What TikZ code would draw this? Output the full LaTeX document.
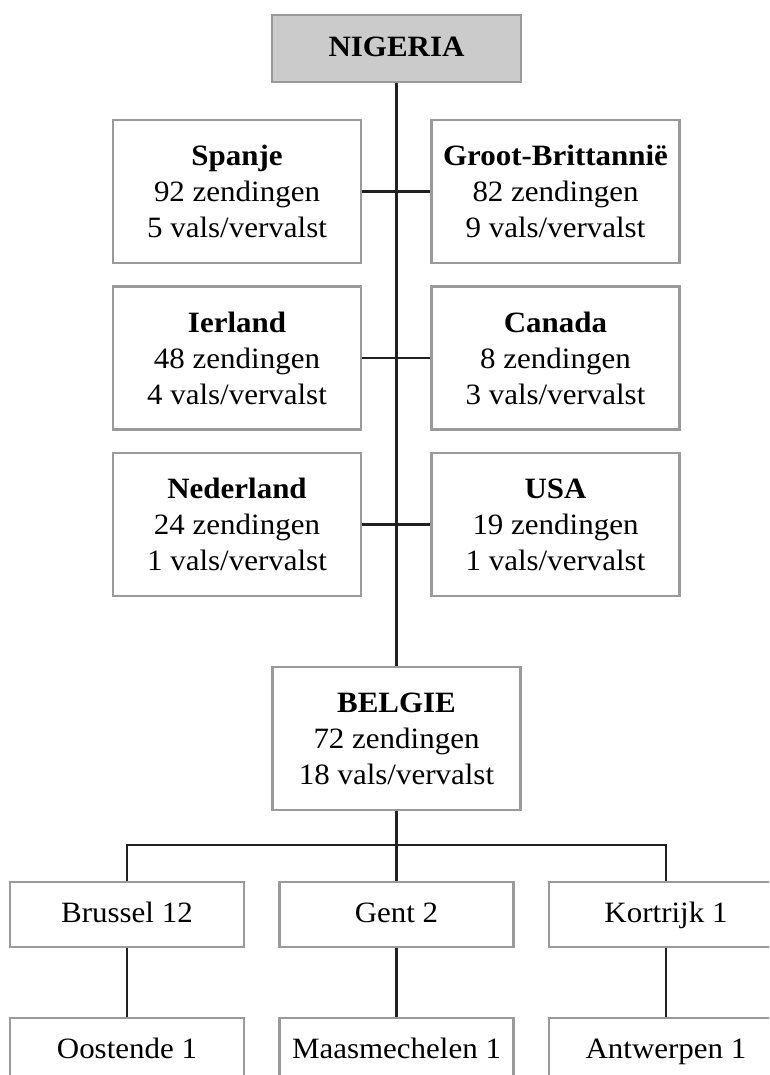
\documentclass[tikz,border=0pt]{standalone}
\usepackage{fontspec}
\setmainfont[FakeStretch=1.05]{Liberation Serif}
\usepackage{xcolor}
\definecolor{boxgray}{HTML}{9A9A9A}
\definecolor{headfill}{HTML}{CBCBCB}
\definecolor{linek}{HTML}{231F20}

\tikzset{
  cbox/.style={draw=boxgray,line width=2.2pt,fill=white,align=center,inner sep=0pt,
    minimum width=248pt,minimum height=143pt,font=\fontsize{29.5}{36}\selectfont},
  headbox/.style={cbox,fill=headfill,minimum width=249pt,minimum height=67pt,
    text height=21pt,text depth=4.6pt,font=\fontsize{29.5}{36}\selectfont\bfseries},
  citybox/.style={cbox,minimum width=234pt,minimum height=65pt,text height=21pt,text depth=4.6pt},
  link/.style={draw=linek,line width=2.8pt},
}

\begin{document}
\begin{tikzpicture}[x=1pt,y=-1pt]
        \useasboundingbox (0,0) rectangle (769,1075);
        \clip (0,0) rectangle (769,1075);

        % Origin
        \node[headbox] (nigeria) at (396.5,48.5) {NIGERIA};

        % Transit countries, left column
        \node[cbox] (spanje) at (237,191.5) {\textbf{Spanje}\\92 zendingen\\5 vals/vervalst};
        \node[cbox] (ierland) at (237,358) {\textbf{Ierland}\\48 zendingen\\4 vals/vervalst};
        \node[cbox] (nederland) at (237,524.5) {\textbf{Nederland}\\24 zendingen\\1 vals/vervalst};

        % Transit countries, right column
        \node[cbox] (gb) at (555.5,191.5) {\textbf{Groot-Brittannië}\\82 zendingen\\9 vals/vervalst};
        \node[cbox] (canada) at (555.5,358) {\textbf{Canada}\\8 zendingen\\3 vals/vervalst};
        \node[cbox] (usa) at (555.5,524.5) {\textbf{USA}\\19 zendingen\\1 vals/vervalst};

        % Destination
        \node[cbox] (belgie) at (396.5,738.5) {\textbf{BELGIE}\\72 zendingen\\18 vals/vervalst};

        % Cities
        \node[citybox] (brussel) at (127,914.5) {Brussel 12};
        \node[citybox] (gent) at (396.5,914.5) {Gent 2};
        \node[citybox] (kortrijk) at (666,914.5) {Kortrijk 1};
        \node[citybox] (oostende) at (127,1050.5) {Oostende 1};
        \node[citybox] (maasmechelen) at (396.5,1050.5) {Maasmechelen 1};
        \node[citybox] (antwerpen) at (666,1050.5) {Antwerpen 1};

        % Main trunk
        \draw[link] (nigeria) -- (belgie);
        \draw[link] (spanje) -- (gb);
        \draw[link] (ierland) -- (canada);
        \draw[link] (nederland) -- (usa);

        % Split to the cities
        \coordinate (split) at (396.5,845);
        \draw[link] (belgie) -- (split);
        \draw[link] (brussel.north) |- (split) -| (kortrijk.north);
        \draw[link] (split) -- (gent);
        \draw[link] (brussel) -- (oostende);
        \draw[link] (gent) -- (maasmechelen);
        \draw[link] (kortrijk) -- (antwerpen);
      \end{tikzpicture}
\end{document}
